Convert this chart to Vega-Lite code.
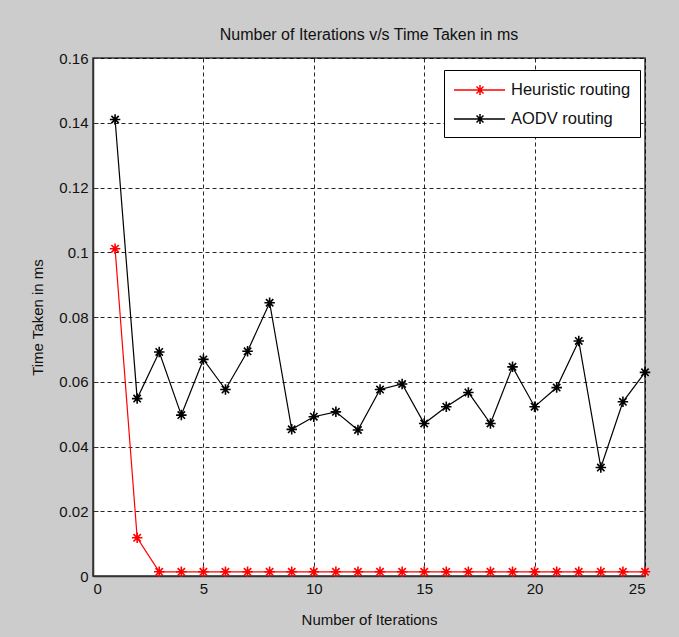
{
  "$schema": "https://vega.github.io/schema/vega-lite/v6.json",
  "width": 552,
  "height": 518,
  "autosize": {"type": "none"},
  "padding": {"left": 93, "top": 58, "right": 34, "bottom": 61},
  "background": "#cccccc",
  "title": {
    "text": "Number of Iterations v/s Time Taken in ms",
    "font": "Liberation Sans",
    "fontSize": 16,
    "fontWeight": "normal",
    "color": "#111111",
    "offset": 8
  },
  "data": {
    "values": [
      {"iter": 1, "time": 0.1011, "series": "Heuristic routing"},
      {"iter": 2, "time": 0.0118, "series": "Heuristic routing"},
      {"iter": 3, "time": 0.0013, "series": "Heuristic routing"},
      {"iter": 4, "time": 0.0013, "series": "Heuristic routing"},
      {"iter": 5, "time": 0.0013, "series": "Heuristic routing"},
      {"iter": 6, "time": 0.0013, "series": "Heuristic routing"},
      {"iter": 7, "time": 0.0013, "series": "Heuristic routing"},
      {"iter": 8, "time": 0.0013, "series": "Heuristic routing"},
      {"iter": 9, "time": 0.0013, "series": "Heuristic routing"},
      {"iter": 10, "time": 0.0013, "series": "Heuristic routing"},
      {"iter": 11, "time": 0.0013, "series": "Heuristic routing"},
      {"iter": 12, "time": 0.0013, "series": "Heuristic routing"},
      {"iter": 13, "time": 0.0013, "series": "Heuristic routing"},
      {"iter": 14, "time": 0.0013, "series": "Heuristic routing"},
      {"iter": 15, "time": 0.0013, "series": "Heuristic routing"},
      {"iter": 16, "time": 0.0013, "series": "Heuristic routing"},
      {"iter": 17, "time": 0.0013, "series": "Heuristic routing"},
      {"iter": 18, "time": 0.0013, "series": "Heuristic routing"},
      {"iter": 19, "time": 0.0013, "series": "Heuristic routing"},
      {"iter": 20, "time": 0.0013, "series": "Heuristic routing"},
      {"iter": 21, "time": 0.0013, "series": "Heuristic routing"},
      {"iter": 22, "time": 0.0013, "series": "Heuristic routing"},
      {"iter": 23, "time": 0.0013, "series": "Heuristic routing"},
      {"iter": 24, "time": 0.0013, "series": "Heuristic routing"},
      {"iter": 25, "time": 0.0013, "series": "Heuristic routing"},
      {"iter": 1, "time": 0.141, "series": "AODV routing"},
      {"iter": 2, "time": 0.0548, "series": "AODV routing"},
      {"iter": 3, "time": 0.0692, "series": "AODV routing"},
      {"iter": 4, "time": 0.0497, "series": "AODV routing"},
      {"iter": 5, "time": 0.0669, "series": "AODV routing"},
      {"iter": 6, "time": 0.0576, "series": "AODV routing"},
      {"iter": 7, "time": 0.0694, "series": "AODV routing"},
      {"iter": 8, "time": 0.0844, "series": "AODV routing"},
      {"iter": 9, "time": 0.0453, "series": "AODV routing"},
      {"iter": 10, "time": 0.0492, "series": "AODV routing"},
      {"iter": 11, "time": 0.0507, "series": "AODV routing"},
      {"iter": 12, "time": 0.0451, "series": "AODV routing"},
      {"iter": 13, "time": 0.0576, "series": "AODV routing"},
      {"iter": 14, "time": 0.0593, "series": "AODV routing"},
      {"iter": 15, "time": 0.0471, "series": "AODV routing"},
      {"iter": 16, "time": 0.0523, "series": "AODV routing"},
      {"iter": 17, "time": 0.0567, "series": "AODV routing"},
      {"iter": 18, "time": 0.0471, "series": "AODV routing"},
      {"iter": 19, "time": 0.0646, "series": "AODV routing"},
      {"iter": 20, "time": 0.0523, "series": "AODV routing"},
      {"iter": 21, "time": 0.0582, "series": "AODV routing"},
      {"iter": 22, "time": 0.0726, "series": "AODV routing"},
      {"iter": 23, "time": 0.0335, "series": "AODV routing"},
      {"iter": 24, "time": 0.0538, "series": "AODV routing"},
      {"iter": 25, "time": 0.0629, "series": "AODV routing"}
    ]
  },
  "encoding": {
    "x": {
      "field": "iter",
      "type": "quantitative",
      "title": "Number of Iterations",
      "scale": {"domain": [0, 25], "nice": false, "zero": false},
      "axis": {"values": [0, 5, 10, 15, 20, 25], "titlePadding": 16}
    },
    "y": {
      "field": "time",
      "type": "quantitative",
      "title": "Time Taken in ms",
      "scale": {"domain": [0, 0.16], "nice": false},
      "axis": {"values": [0, 0.02, 0.04, 0.06, 0.08, 0.1, 0.12, 0.14, 0.16], "format": "~g", "titlePadding": 13}
    },
    "color": {
      "field": "series",
      "type": "nominal",
      "sort": ["Heuristic routing", "AODV routing"],
      "scale": {"domain": ["Heuristic routing", "AODV routing"], "range": ["#ff0000", "#000000"]},
      "legend": {
        "title": null,
        "orient": "none",
        "legendX": 351,
        "legendY": 12,
        "symbolType": "M-1,0L4.1,0M1.6,-0.5L1.6,0.5M1.25,-0.35L1.95,0.35M1.25,0.35L1.95,-0.35",
        "symbolSize": 400,
        "symbolStrokeWidth": 1.5,
        "symbolFillColor": "transparent",
        "labelFont": "Liberation Sans",
        "labelFontSize": 16.5,
        "labelColor": "#111111",
        "fillColor": "#ffffff",
        "strokeColor": "#000000",
        "padding": 9,
        "rowPadding": 9,
        "labelOffset": 36
      }
    },
    "order": {"field": "iter"}
  },
  "layer": [
    {
      "mark": {"type": "line", "strokeWidth": 1.2}
    },
    {
      "mark": {
        "type": "point",
        "shape": "M-1,0L1,0M0,-1L0,1M-0.7,-0.7L0.7,0.7M-0.7,0.7L0.7,-0.7",
        "size": 110,
        "strokeWidth": 1.6,
        "filled": false,
        "opacity": 1
      }
    }
  ],
  "config": {
    "view": {"stroke": "#333333", "strokeWidth": 1.5, "fill": "#ffffff"},
    "axis": {
      "labelFont": "Liberation Sans",
      "labelFontSize": 15,
      "labelColor": "#111111",
      "titleFont": "Liberation Sans",
      "titleFontSize": 15,
      "titleFontWeight": "normal",
      "titleColor": "#111111",
      "domainColor": "#333333",
      "domainWidth": 1.5,
      "tickColor": "#333333",
      "tickSize": -5,
      "labelPadding": 10,
      "grid": true,
      "gridColor": "#000000",
      "gridOpacity": 0.85,
      "gridDash": [4, 3],
      "gridWidth": 1
    }
  }
}
